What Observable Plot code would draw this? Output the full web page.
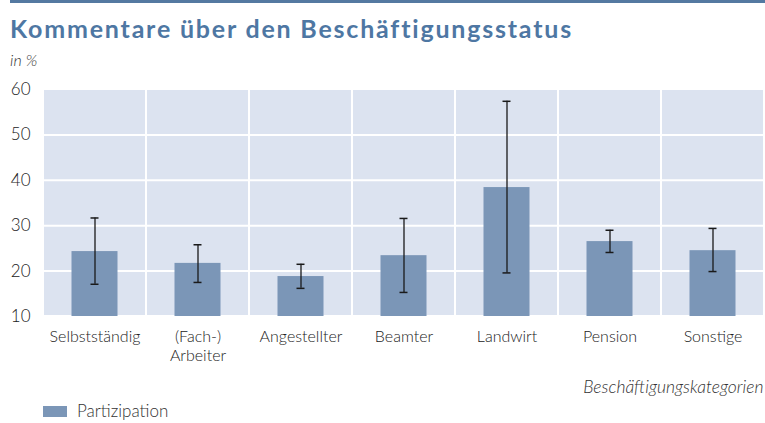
<!DOCTYPE html>
<html><head><meta charset="utf-8">
<script src="https://cdn.jsdelivr.net/npm/d3@7"></script>
<script src="https://cdn.jsdelivr.net/npm/@observablehq/plot@0.6"></script>
<style>
body{margin:0;background:#fff;font-family:Lato,sans-serif;}
#wrap{position:relative;width:765px;height:423px;overflow:hidden;}
#rule{position:absolute;left:10px;top:0;width:755px;height:3px;background:#5479a1;}
#title{position:absolute;left:10px;top:13px;font-size:25px;font-weight:bold;letter-spacing:1.8px;color:#4e77a3;white-space:nowrap;}
#unit{position:absolute;left:10px;top:50px;font-size:16px;font-style:italic;font-weight:300;color:#333;}
#chart{position:absolute;left:0;top:75px;}
#legend{position:absolute;left:43px;top:401px;height:20px;line-height:20px;font-size:17px;font-weight:300;color:#333;display:flex;align-items:center;}
#legend span.sw{display:inline-block;width:24px;height:11px;background:#7b96b7;margin-right:10px;}
</style></head>
<body><div id="wrap">
<div id="rule"></div>
<div id="title">Kommentare über den Beschäftigungsstatus</div>
<div id="unit">in %</div>
<div id="chart"></div>
<div id="legend"><span class="sw"></span>Partizipation</div>
</div>
<script>
const categories = ["Selbstständig", "(Fach-)\nArbeiter", "Angestellter", "Beamter", "Landwirt", "Pension", "Sonstige"];
const participation = [24.3, 21.7, 18.8, 23.4, 38.4, 26.5, 24.5];
const errLow = [17.1, 17.5, 16.2, 15.3, 19.6, 24.1, 19.9];
const errHigh = [31.7, 25.8, 21.5, 31.6, 57.4, 29.0, 29.4];
const yTicks = [10, 20, 30, 40, 50, 60];
const yMin = 10, yMax = 60;

const data = categories.map((c, i) => ({cat: c, v: participation[i], lo: errLow[i], hi: errHigh[i]}));

const chart = Plot.plot({
  width: 765,
  height: 330,
  marginLeft: 43,
  marginRight: 1,
  marginTop: 14,
  marginBottom: 89,
  style: {fontFamily: "Lato, sans-serif", fontSize: "15px", fontWeight: 300, color: "#333", background: "transparent"},
  x: {domain: categories, padding: 0, label: null, tickSize: 0, tickPadding: 12},
  y: {domain: [yMin, yMax], ticks: yTicks, label: null, tickSize: 0, tickPadding: 13},
  marks: [
    Plot.barY(data, {x: "cat", y1: yMin, y2: yMax, fill: "#dce3f0", stroke: "white", strokeWidth: 2}),
    Plot.ruleY(yTicks.slice(1, -1), {stroke: "white", strokeWidth: 2}),
    Plot.barY(data, {x: "cat", y1: yMin, y2: "v", fill: "#7b96b7", insetLeft: 28.5, insetRight: 28.5}),
    Plot.ruleX(data, {x: "cat", y1: "lo", y2: "hi", stroke: "#1a1a1a", strokeWidth: 1.3}),
    Plot.tickY(data, {x: "cat", y: "lo", stroke: "#1a1a1a", strokeWidth: 1.5, insetLeft: 47.5, insetRight: 47.5}),
    Plot.tickY(data, {x: "cat", y: "hi", stroke: "#1a1a1a", strokeWidth: 1.5, insetLeft: 47.5, insetRight: 47.5}),
    Plot.axisX({tickSize: 0, tickPadding: 12, lineHeight: 1.2, fontSize: 16, fontWeight: 300, fill: "#222", label: null}),
    Plot.axisY({ticks: yTicks, tickSize: 0, tickPadding: 13, fontSize: 17, fontWeight: 300, fill: "#222", label: null}),
    Plot.text(["Beschäftigungskategorien"], {frameAnchor: "bottom-right", dx: -1, dy: 76, fontStyle: "italic", fontWeight: 300, fontSize: 17.5, fill: "#333", textAnchor: "end"})
  ]
});
document.getElementById("chart").appendChild(chart);
</script>
</body></html>
